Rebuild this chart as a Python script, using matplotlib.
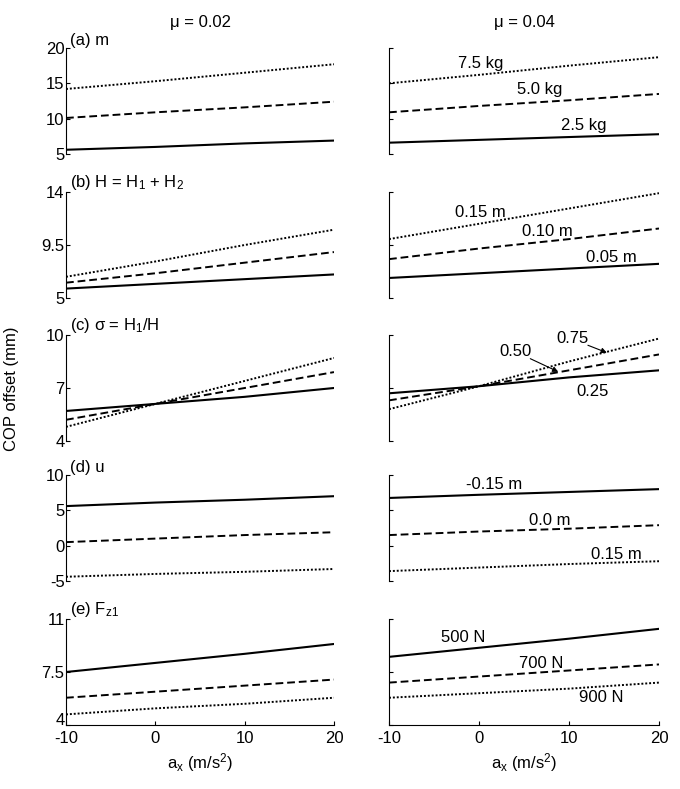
import matplotlib
matplotlib.use("Agg")
import matplotlib.pyplot as plt
import matplotlib.transforms as mtransforms
import numpy as np

plt.rcParams['font.family'] = ['Liberation Sans', 'DejaVu Sans']
plt.rcParams['mathtext.fontset'] = 'custom'
plt.rcParams['mathtext.rm'] = 'Liberation Sans'
plt.rcParams['mathtext.it'] = 'Liberation Sans'
plt.rcParams['mathtext.default'] = 'regular'

ax_x = [-10, 0, 10, 20]

# left column (mu = 0.02): [solid, dashed, dotted]
left_a = [[5.6, 6.0, 6.5, 6.9], [10.1, 10.9, 11.6, 12.4], [14.2, 15.3, 16.5, 17.7]]
left_b = [[5.8, 6.2, 6.6, 7.0], [6.3, 7.1, 8.0, 8.9], [6.8, 8.1, 9.5, 10.8]]
left_c = [[5.7, 6.1, 6.5, 7.0], [5.2, 6.1, 7.0, 7.9], [4.8, 6.1, 7.4, 8.7]]
left_d = [[5.6, 6.1, 6.5, 7.0], [0.5, 1.0, 1.5, 1.9], [-4.4, -4.0, -3.7, -3.3]]
left_e = [[7.5, 8.1, 8.7, 9.35], [5.8, 6.2, 6.6, 7.0], [4.7, 5.1, 5.4, 5.8]]

# right column (mu = 0.04)
right_a = [[6.6, 7.0, 7.4, 7.8], [10.9, 11.8, 12.6, 13.5], [15.0, 16.2, 17.5, 18.7]]
right_b = [[6.7, 7.1, 7.5, 7.9], [8.3, 9.2, 10.0, 10.9], [10.0, 11.3, 12.6, 13.9]]
right_c = [[6.7, 7.1, 7.6, 8.0], [6.3, 7.1, 8.0, 8.9], [5.8, 7.1, 8.5, 9.8]]
right_d = [[6.75, 7.2, 7.6, 8.0], [1.5, 2.0, 2.4, 2.9], [-3.6, -3.1, -2.6, -2.2]]
right_e = [[8.5, 9.1, 9.7, 10.35], [6.8, 7.2, 7.6, 8.0], [5.8, 6.1, 6.4, 6.8]]

panel_titles = ["(a) m", "(b) H = H$_1$ + H$_2$", "(c) \u03c3 = H$_1$/H", "(d) u", "(e) F$_{z1}$"]
ylims = [(5, 20), (5, 14), (4, 10), (-5, 10), (4, 11)]
yticks = [[5, 10, 15, 20], [5, 9.5, 14], [4, 7, 10], [-5, 0, 5, 10], [4, 7.5, 11]]
yticklabels = [["5", "10", "15", "20"], ["5", "9.5", "14"], ["4", "7", "10"],
               ["-5", "0", "5", "10"], ["4", "7.5", "11"]]

# curve labels on right column: (text, x, y)
labels_a = [("2.5 kg", 11.6, 9.1), ("5.0 kg", 6.7, 14.1), ("7.5 kg", 0.2, 17.8)]
labels_b = [("0.05 m", 14.7, 8.45), ("0.10 m", 7.6, 10.66), ("0.15 m", 0.2, 12.3)]
labels_d = [("-0.15 m", 1.7, 8.6), ("0.0 m", 7.9, 3.6), ("0.15 m", 15.3, -1.2)]
labels_e = [("500 N", -1.8, 9.75), ("700 N", 6.9, 8.05), ("900 N", 13.6, 5.8)]
labels_c_plain = [("0.25", 12.6, 6.8), ("0.50", 4.1, 9.07), ("0.75", 10.4, 9.83)]
# arrows: (x_start, y_start, x_end, y_end)
arrows_c = [(5.7, 8.66, 8.8, 7.92), (12.1, 9.42, 14.2, 9.0)]

left_data = [left_a, left_b, left_c, left_d, left_e]
right_data = [right_a, right_b, right_c, right_d, right_e]
right_labels = [labels_a, labels_b, labels_c_plain, labels_d, labels_e]

W, H = 680, 789
fig = plt.figure(figsize=(6.8, 7.89), dpi=100)
tops = [48, 192, 335, 475, 619]
hpx = 106
styles = [dict(ls='-', lw=1.5), dict(ls=(0, (4, 2)), lw=1.4), dict(ls=(0, (1, 1)), lw=1.4)]
FS = 12

def style_axes(ax, i, show_labels):
    ax.set_xlim(-10, 20)
    ax.set_ylim(*ylims[i])
    ax.set_yticks(yticks[i])
    if show_labels:
        ax.set_yticklabels(yticklabels[i], fontsize=FS)
    else:
        ax.set_yticklabels([])
    for s in ['top', 'right']:
        ax.spines[s].set_visible(False)
    ax.spines['left'].set_linewidth(0.8)
    ax.tick_params(axis='y', direction='in', length=3, width=0.8, pad=1)
    if i < 4:
        ax.spines['bottom'].set_visible(False)
        ax.set_xticks([])
    else:
        ax.spines['bottom'].set_linewidth(0.8)
        ax.set_xticks([-10, 0, 10, 20])
        ax.set_xticklabels(["-10", "0", "10", "20"], fontsize=FS)
        ax.tick_params(axis='x', direction='in', length=3, width=0.8, pad=4)
        ax.set_xlabel("a$_x$ (m/s$^2$)", fontsize=FS, labelpad=4)
    ax.patch.set_visible(False)

for i in range(5):
    bottom = 1 - (tops[i] + hpx) / H
    axl = fig.add_axes([66 / W, bottom, 268 / W, hpx / H])
    axr = fig.add_axes([389 / W, bottom, 270 / W, hpx / H])
    for k in range(3):
        axl.plot(ax_x, left_data[i][k], color='black', **styles[k])
        axr.plot(ax_x, right_data[i][k], color='black', **styles[k])
    style_axes(axl, i, True)
    style_axes(axr, i, False)
    axl.text(0.015, 1.0, panel_titles[i], transform=axl.transAxes, fontsize=FS,
             ha='left', va='bottom')
    for t, x, y in right_labels[i]:
        axr.text(x, y, t, fontsize=FS, ha='center', va='center')
    if i == 2:
        for xs, ys, xe, ye in arrows_c:
            axr.annotate("", xy=(xe, ye), xytext=(xs, ys),
                         arrowprops=dict(arrowstyle='-|>', color='black', lw=0.8,
                                         mutation_scale=8, shrinkA=0, shrinkB=0))
    if i == 4:
        lab = axl.get_yticklabels()[0]
        lab.set_transform(lab.get_transform() +
                          mtransforms.ScaledTranslation(0, 4 / 72, fig.dpi_scale_trans))

fig.text(200 / W, 1 - 23 / H, "\u03bc = 0.02", fontsize=FS, ha='center', va='center')
fig.text(524 / W, 1 - 23 / H, "\u03bc = 0.04", fontsize=FS, ha='center', va='center')
fig.text(12 / W, 1 - 389 / H, "COP offset (mm)", rotation=90, fontsize=FS,
         ha='center', va='center')

fig.savefig("out.png", dpi=100)
